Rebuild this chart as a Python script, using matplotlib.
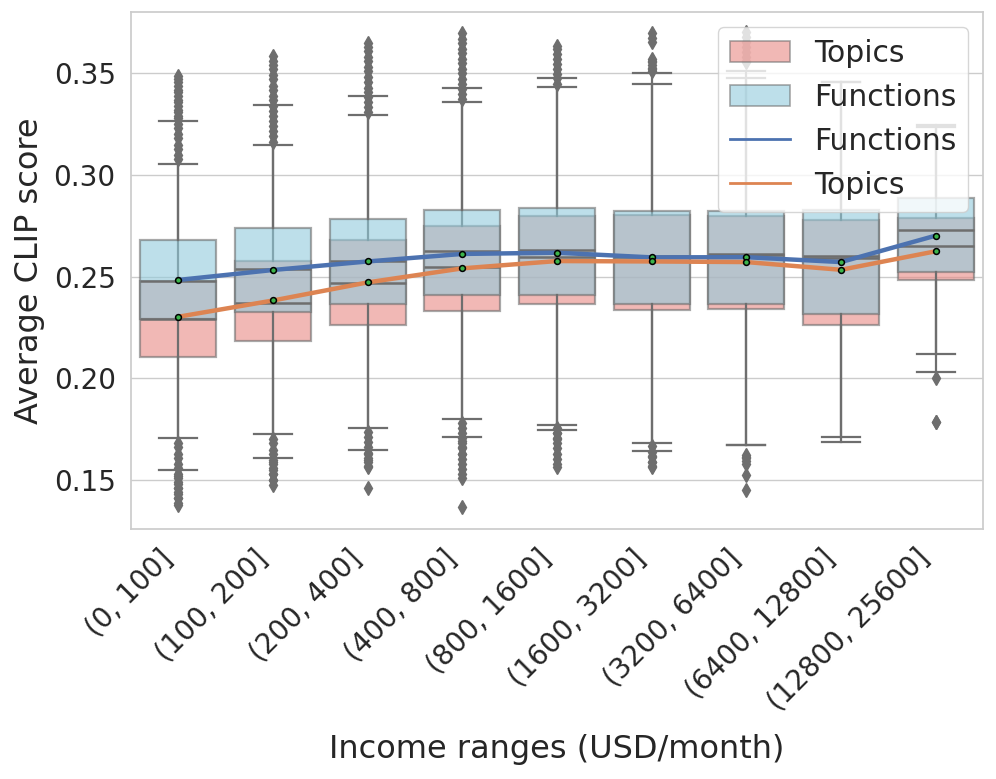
import matplotlib
matplotlib.use("Agg")
import matplotlib.pyplot as plt
from matplotlib.patches import Patch
from matplotlib.lines import Line2D

plt.rcParams['font.family'] = ['DejaVu Sans']

# ---------------- data ----------------
categories = ["(0, 100]", "(100, 200]", "(200, 400]", "(400, 800]", "(800, 1600]",
              "(1600, 3200]", "(3200, 6400]", "(6400, 12800]", "(12800, 25600]"]

func_q1 = [0.2292, 0.2324, 0.2364, 0.2408, 0.2408, 0.2367, 0.2366, 0.2316, 0.2525]
func_med = [0.2480, 0.2538, 0.2575, 0.2625, 0.2633, 0.2603, 0.2613, 0.2600, 0.2728]
func_q3 = [0.2682, 0.2740, 0.2784, 0.2827, 0.2838, 0.2822, 0.2821, 0.2827, 0.2888]
func_whislo = [0.1708, 0.1725, 0.1755, 0.1800, 0.1771, 0.1684, 0.1672, 0.1713, 0.2031]
func_whishi = [0.3265, 0.3344, 0.3388, 0.3426, 0.3475, 0.3500, 0.3511, 0.3459, 0.3245]
func_mean = [0.2484, 0.2533, 0.2575, 0.2612, 0.2618, 0.2595, 0.2596, 0.2572, 0.2702]
func_fliers = [
    [0.329, 0.331, 0.334, 0.336, 0.339, 0.341, 0.344, 0.346, 0.3487,
     0.168, 0.166, 0.163, 0.161, 0.158, 0.156, 0.153, 0.151, 0.148, 0.146, 0.143, 0.141, 0.1377],
    [0.337, 0.339, 0.342, 0.344, 0.347, 0.349, 0.352, 0.354, 0.356, 0.3585,
     0.170, 0.168, 0.165, 0.163, 0.160, 0.158, 0.155, 0.153, 0.150, 0.1475],
    [0.341, 0.343, 0.346, 0.348, 0.351, 0.353, 0.356, 0.358, 0.361, 0.363, 0.3648,
     0.1735, 0.171, 0.1685, 0.166, 0.1635, 0.161, 0.159, 0.1566, 0.1459],
    [0.345, 0.347, 0.350, 0.352, 0.355, 0.357, 0.360, 0.362, 0.365, 0.367, 0.3697,
     0.178, 0.1755, 0.173, 0.1705, 0.168, 0.1655, 0.163, 0.1605, 0.158, 0.1555, 0.153, 0.151, 0.1368],
    [0.3495, 0.352, 0.3545, 0.357, 0.3595, 0.362, 0.3634,
     0.1755, 0.173, 0.1705, 0.168, 0.1655, 0.163, 0.1605, 0.158, 0.1566],
    [0.3512, 0.3527, 0.3542, 0.3557, 0.357, 0.3655, 0.3675, 0.3697,
     0.1665, 0.164, 0.1615, 0.159, 0.1565],
    [0.3555, 0.358, 0.3605, 0.363, 0.3655, 0.368, 0.3705,
     0.1625, 0.161, 0.1595, 0.158, 0.1525, 0.1451],
    [],
    [0.2001, 0.1787],
]

topic_q1 = [0.2107, 0.2185, 0.2260, 0.2333, 0.2366, 0.2337, 0.2342, 0.2264, 0.2484]
topic_med = [0.2292, 0.2373, 0.2469, 0.2546, 0.2597, 0.2598, 0.2608, 0.2590, 0.2649]
topic_q3 = [0.2480, 0.2575, 0.2679, 0.2751, 0.2797, 0.2805, 0.2799, 0.2777, 0.2789]
topic_whislo = [0.1548, 0.1607, 0.1648, 0.1713, 0.1746, 0.1643, 0.1672, 0.1689, 0.2119]
topic_whishi = [0.3055, 0.3149, 0.3295, 0.3357, 0.3434, 0.3447, 0.3479, 0.3459, 0.3235]
topic_mean = [0.2303, 0.2383, 0.2472, 0.2541, 0.2577, 0.2575, 0.2572, 0.2534, 0.2625]
topic_fliers = [
    [0.308, 0.310, 0.313, 0.315, 0.318, 0.320, 0.323, 0.325, 0.328, 0.332, 0.337, 0.342, 0.347,
     0.152, 0.149, 0.146, 0.144, 0.141, 0.1385],
    [0.3165, 0.319, 0.3215, 0.324, 0.3265, 0.329, 0.3315, 0.334,
     0.159, 0.156, 0.153, 0.150],
    [0.331, 0.3335, 0.336, 0.3385,
     0.163, 0.160, 0.157],
    [0.3375, 0.340, 0.3425,
     0.169, 0.166, 0.163],
    [0.345, 0.3475,
     0.173, 0.170],
    [0.352, 0.356,
     0.162, 0.159, 0.157],
    [0.356,
     0.1615],
    [],
    [0.1787],
]

# ---------------- styling ----------------
gray = '#6e6e6e'
text_color = '#262626'
topic_face = (233/255, 137/255, 132/255, 0.6)
func_face = (145/255, 203/255, 220/255, 0.6)
edge = (0.43, 0.43, 0.43, 0.6)
blue = '#4c72b0'
orange = '#dd8452'
dot_green = '#3cb44b'

fig = plt.figure(figsize=(9.96, 7.79), dpi=100)
ax = fig.add_axes([131/996, 1 - 529/779, (983 - 131)/996, (529 - 12)/779])


def make_stats(q1, med, q3, lo, hi, fl):
    return [dict(q1=q1[i], med=med[i], q3=q3[i], whislo=lo[i], whishi=hi[i], fliers=fl[i])
            for i in range(len(q1))]


positions = list(range(len(categories)))
common = dict(positions=positions, widths=0.8, patch_artist=True, showfliers=True,
              manage_ticks=False,
              whiskerprops=dict(color=gray, lw=1.6),
              capprops=dict(color=gray, lw=1.6),
              medianprops=dict(color=gray, lw=1.8),
              flierprops=dict(marker='d', markerfacecolor=gray, markeredgecolor=gray,
                              markersize=7, linestyle='none'))

ax.bxp(make_stats(topic_q1, topic_med, topic_q3, topic_whislo, topic_whishi, topic_fliers),
       boxprops=dict(facecolor=topic_face, edgecolor=edge, lw=1.6), **common)
ax.bxp(make_stats(func_q1, func_med, func_q3, func_whislo, func_whishi, func_fliers),
       boxprops=dict(facecolor=func_face, edgecolor=edge, lw=1.6), **common)

ax.plot(positions, func_mean, color=blue, lw=3.2, zorder=5, solid_capstyle='butt')
ax.plot(positions, topic_mean, color=orange, lw=3.2, zorder=5, solid_capstyle='butt')
ax.plot(positions, func_mean, ls='none', marker='o', ms=4.2, mfc=dot_green, mec='black',
        mew=1.1, zorder=6)
ax.plot(positions, topic_mean, ls='none', marker='o', ms=4.2, mfc=dot_green, mec='black',
        mew=1.1, zorder=6)

ax.set_xlim(-0.5, len(categories) - 0.5)
ax.set_ylim(0.1259, 0.3802)
ax.set_xticks(positions)
ax.set_xticklabels(categories, rotation=45, ha='right')
yt = [0.15, 0.20, 0.25, 0.30, 0.35]
ax.set_yticks(yt)
ax.set_yticklabels([f"{v:.2f}" for v in yt])
ax.tick_params(axis='both', length=0, labelsize=20, colors=text_color, pad=11)

ax.yaxis.grid(True, color='#cccccc', lw=1.0)
ax.xaxis.grid(False)
ax.set_axisbelow(True)
for s in ax.spines.values():
    s.set_color('#cccccc')
    s.set_linewidth(1.25)

ax.set_ylabel("Average CLIP score", fontsize=23, color=text_color, labelpad=6)
ax.set_xlabel("Income ranges (USD/month)", fontsize=23, color=text_color, labelpad=12)

handles = [
    Patch(facecolor=topic_face, edgecolor=edge, lw=1.2, label='Topics'),
    Patch(facecolor=func_face, edgecolor=edge, lw=1.2, label='Functions'),
    Line2D([0], [0], color=blue, lw=2, label='Functions'),
    Line2D([0], [0], color=orange, lw=2, label='Topics'),
]
leg = ax.legend(handles=handles, loc='upper right', fontsize=21.5, framealpha=0.8,
                edgecolor='#cccccc', fancybox=True)
for t in leg.get_texts():
    t.set_color(text_color)

fig.savefig("out.png", dpi=100)
